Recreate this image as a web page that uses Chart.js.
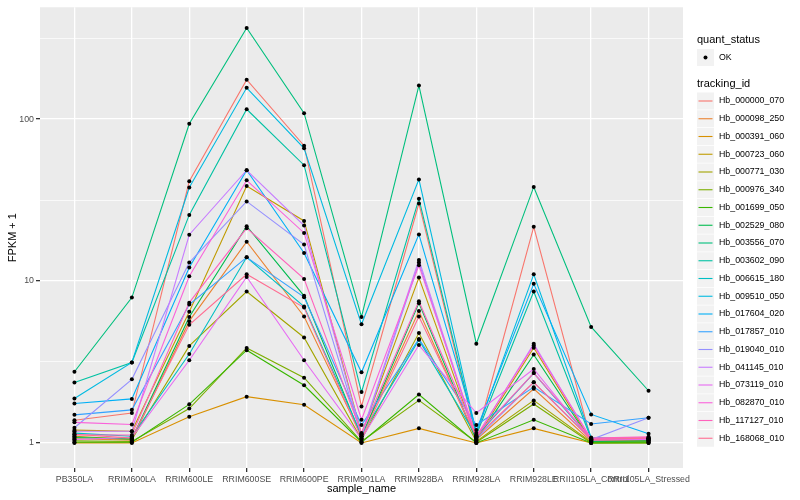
<!DOCTYPE html>
<html>
<head>
<meta charset="utf-8">
<script src="https://cdn.jsdelivr.net/npm/chart.js@4.4.0/dist/chart.umd.min.js"></script>
<style>
    html, body { margin: 0; padding: 0; background: #ffffff; }
    #wrap { width: 800px; height: 500px; }
</style>
</head>
<body>
<div id="wrap"><canvas id="grafico" width="800" height="500"></canvas></div>
<script>
// ==========================================
// DADOS
// ==========================================
const sampleNames = ["PB350LA", "RRIM600LA", "RRIM600LE", "RRIM600SE", "RRIM600PE", "RRIM901LA",
    "RRIM928BA", "RRIM928LA", "RRIM928LE", "RRII105LA_Control", "RRII105LA_Stressed"];

const trackingIds = ["Hb_000000_070", "Hb_000098_250", "Hb_000391_060", "Hb_000723_060", "Hb_000771_030",
    "Hb_000976_340", "Hb_001699_050", "Hb_002529_080", "Hb_003556_070", "Hb_003602_090",
    "Hb_006615_180", "Hb_009510_050", "Hb_017604_020", "Hb_017857_010", "Hb_019040_010",
    "Hb_041145_010", "Hb_073119_010", "Hb_082870_010", "Hb_117127_010", "Hb_168068_010"];

const lineColors = ["#F8766D", "#EA8331", "#D89000", "#C09B00", "#A3A500", "#7CAE00", "#39B600",
    "#00BB4E", "#00BF7D", "#00C1A3", "#00BFC4", "#00BAE0", "#00B0F6", "#35A2FF", "#9590FF",
    "#C77CFF", "#E76BF3", "#FA62DB", "#FF62BC", "#FF6C91"];

// FPKM + 1, one row per tracking_id, one value per sample
const fpkmPlus1 = [
    [1.38, 1.53, 41.3, 175, 68.5, 1.68, 30.1, 1.08, 21.6, 1.04, 1.05],
    [1.06, 1.04, 5.65, 17.5, 6.04, 1.10, 6.53, 1.05, 2.16, 1.02, 1.03],
    [1.00, 1.00, 1.45, 1.93, 1.72, 1.00, 1.23, 1.00, 1.23, 1.00, 1.00],
    [1.20, 1.18, 6.46, 38.6, 23.5, 1.14, 10.5, 1.06, 3.87, 1.03, 1.04],
    [1.10, 1.05, 3.97, 8.6, 4.48, 1.05, 4.77, 1.02, 1.83, 1.01, 1.02],
    [1.03, 1.02, 1.63, 3.86, 2.53, 1.02, 1.83, 1.01, 1.74, 1.00, 1.01],
    [1.01, 1.01, 1.73, 3.74, 2.27, 1.01, 1.99, 1.00, 1.39, 1.00, 1.00],
    [1.08, 1.06, 6.00, 21.8, 8.10, 1.09, 7.30, 1.04, 3.51, 1.02, 1.03],
    [2.75, 7.90, 93.6, 365, 108.7, 6.00, 161, 4.10, 38.1, 5.20, 2.10],
    [2.36, 3.14, 25.6, 115, 51.9, 2.06, 32.2, 1.12, 8.60, 1.06, 1.07],
    [1.15, 1.10, 3.54, 14.0, 6.95, 1.12, 4.33, 1.10, 2.70, 1.05, 1.06],
    [1.88, 3.14, 37.8, 156, 66.0, 5.40, 42.4, 1.15, 11.0, 1.08, 1.06],
    [1.75, 1.87, 12.1, 48.3, 14.9, 2.73, 19.4, 1.20, 9.60, 1.50, 1.14],
    [1.49, 1.60, 7.16, 14.0, 7.95, 1.29, 4.38, 1.29, 2.21, 1.31, 1.43],
    [1.24, 2.47, 13.0, 31.0, 16.8, 1.10, 13.0, 1.06, 2.37, 1.05, 1.43],
    [1.18, 1.18, 19.3, 48.3, 22.0, 1.13, 13.5, 1.08, 4.09, 1.05, 1.06],
    [1.05, 1.08, 3.24, 10.6, 3.24, 1.06, 4.02, 1.53, 2.86, 1.04, 1.05],
    [1.34, 1.30, 10.7, 41.9, 19.8, 1.39, 12.5, 1.10, 4.00, 1.06, 1.08],
    [1.12, 1.12, 7.35, 21.2, 10.3, 1.15, 7.50, 1.12, 2.70, 1.07, 1.09],
    [1.13, 1.07, 5.37, 11.0, 6.85, 1.07, 6.04, 1.09, 2.37, 1.05, 1.07]
];

const yBreaks = [1, 10, 100];
const yLabels = ["1", "10", "100"];
const yMinorBreaks = [3.1623, 31.623, 316.23];

const fonte = '"Liberation Sans", Arial, Helvetica, sans-serif';

// ==========================================
// PLUGINS (fundo do painel, titulos, legenda)
// ==========================================
const fundoPainel = {
    id: "fundoPainel",
    beforeDraw(chart) {
        const ctx = chart.ctx;
        const a = chart.chartArea;
        ctx.save();
        ctx.fillStyle = "#ffffff";
        ctx.fillRect(0, 0, chart.width, chart.height);
        ctx.fillStyle = "#EBEBEB";
        ctx.fillRect(a.left, a.top, a.right - a.left, a.bottom - a.top);
        ctx.restore();
    }
};

const titulosELegenda = {
    id: "titulosELegenda",
    afterDraw(chart) {
        const ctx = chart.ctx;
        const a = chart.chartArea;
        ctx.save();

        // axis titles
        ctx.fillStyle = "#000000";
        ctx.font = "11px " + fonte;
        ctx.textAlign = "center";
        ctx.textBaseline = "middle";
        ctx.fillText("sample_name", (a.left + a.right) / 2, 489);
        ctx.save();
        ctx.translate(13, (a.top + a.bottom) / 2);
        ctx.rotate(-Math.PI / 2);
        ctx.fillText("FPKM + 1", 0, 0);
        ctx.restore();

        // legend
        const x0 = 697;
        ctx.textAlign = "left";
        ctx.fillText("quant_status", x0, 40);

        ctx.fillStyle = "#F2F2F2";
        ctx.fillRect(x0, 49, 17, 17);
        ctx.fillStyle = "#000000";
        ctx.beginPath();
        ctx.arc(x0 + 8.5, 57.5, 2, 0, Math.PI * 2);
        ctx.fill();
        ctx.font = "8.8px " + fonte;
        ctx.fillText("OK", x0 + 22, 57.5);

        ctx.font = "11px " + fonte;
        ctx.fillText("tracking_id", x0, 84);

        ctx.font = "8.8px " + fonte;
        trackingIds.forEach(function (id, k) {
            const cy = 101 + k * 17.75;
            ctx.fillStyle = "#F2F2F2";
            ctx.fillRect(x0, cy - 8.5, 17, 17);
            ctx.strokeStyle = lineColors[k];
            ctx.lineWidth = 1.1;
            ctx.beginPath();
            ctx.moveTo(x0 + 1.5, cy);
            ctx.lineTo(x0 + 15.5, cy);
            ctx.stroke();
            ctx.fillStyle = "#000000";
            ctx.fillText(id, x0 + 22, cy);
        });

        ctx.restore();
    }
};

// ==========================================
// GRAFICO
// ==========================================
function criarGrafico() {
    const canvas = document.getElementById("grafico");

    const linhas = fpkmPlus1.map(function (row, k) {
        return {
            label: trackingIds[k],
            data: row.map(function (v, i) { return { x: i, y: v }; }),
            borderColor: lineColors[k],
            borderWidth: 1.1,
            pointRadius: 0,
            fill: false,
            tension: 0,
            order: 100 - k
        };
    });

    const pontos = [];
    fpkmPlus1.forEach(function (row) {
        row.forEach(function (v, i) { pontos.push({ x: i, y: v }); });
    });

    linhas.push({
        label: "OK",
        data: pontos,
        showLine: false,
        pointRadius: 2,
        pointBackgroundColor: "#000000",
        pointBorderWidth: 0,
        borderColor: "#000000",
        order: 0
    });

    new Chart(canvas, {
        type: "line",
        data: { datasets: linhas },
        options: {
            responsive: false,
            animation: false,
            events: [],
            layout: { padding: { left: 0, top: 5, right: 117, bottom: 0 } },
            plugins: {
                legend: { display: false },
                tooltip: { enabled: false }
            },
            scales: {
                x: {
                    type: "linear",
                    min: -0.6,
                    max: sampleNames.length - 1 + 0.6,
                    afterBuildTicks: function (scale) {
                        scale.ticks = sampleNames.map(function (n, i) { return { value: i }; });
                    },
                    afterFit: function (scale) { scale.height = 32; },
                    ticks: {
                        autoSkip: false,
                        maxRotation: 0,
                        minRotation: 0,
                        padding: 2,
                        color: "#4D4D4D",
                        font: { family: fonte, size: 8.8 },
                        callback: function (value) { return sampleNames[value]; }
                    },
                    grid: {
                        color: "#ffffff",
                        lineWidth: 1.3,
                        tickColor: "#333333",
                        tickLength: 4
                    },
                    border: { display: false }
                },
                y: {
                    type: "logarithmic",
                    min: Math.pow(10, -0.1281),
                    max: Math.pow(10, 2.6904),
                    afterBuildTicks: function (scale) {
                        const todos = yBreaks.concat(yMinorBreaks).sort(function (a, b) { return a - b; });
                        scale.ticks = todos.map(function (v) { return { value: v }; });
                    },
                    afterFit: function (scale) { scale.width = 40; },
                    ticks: {
                        padding: 2,
                        color: "#4D4D4D",
                        font: { family: fonte, size: 8.8 },
                        callback: function (value) {
                            const idx = yBreaks.indexOf(value);
                            return idx >= 0 ? yLabels[idx] : "";
                        }
                    },
                    grid: {
                        color: "#ffffff",
                        lineWidth: function (c) {
                            return c.tick && yBreaks.indexOf(c.tick.value) >= 0 ? 1.3 : 0.7;
                        },
                        tickColor: function (c) {
                            return c.tick && yBreaks.indexOf(c.tick.value) >= 0 ? "#333333" : "rgba(0,0,0,0)";
                        },
                        tickLength: 4
                    },
                    border: { display: false }
                }
            }
        },
        plugins: [fundoPainel, titulosELegenda]
    });
}

document.addEventListener("DOMContentLoaded", criarGrafico);
</script>
</body>
</html>
